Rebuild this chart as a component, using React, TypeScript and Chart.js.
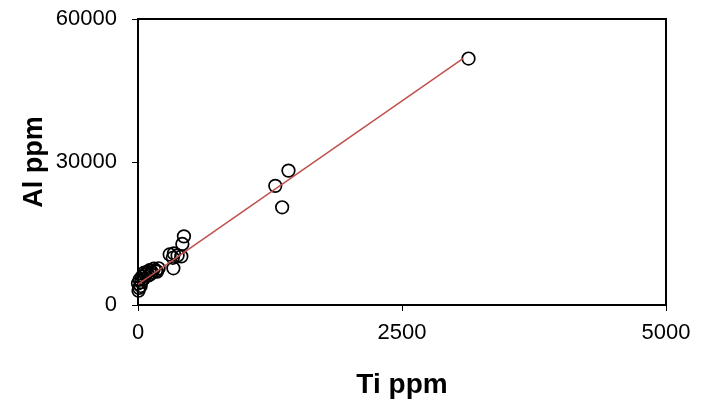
import { useEffect, useRef } from "react";
import { Chart, registerables } from "chart.js";

Chart.register(...registerables);

// Ti ppm vs Al ppm sample points
const tiPpm = [
  5, 10, 0, 15, 30, 40, 55, 70, 85, 100, 110, 130, 150, 170, 195, 25, 60, 120, 180,
  300, 340, 375, 410, 330, 335, 420, 435,
  1300, 1365, 1425, 3130,
];
const alPpm = [
  3000, 3600, 4500, 5300, 4800, 6000, 5500, 6400, 6900, 6200, 7300, 6900, 7600, 7200, 7700, 4000, 6800, 6500, 7000,
  10600, 10800, 10400, 10200, 9900, 7700, 12800, 14400,
  25000, 20500, 28200, 51700,
];

// linear trend line end points
const trendTi = [0, 3080];
const trendAl = [4340, 51750];

const xTicks = [0, 2500, 5000];
const yTicks = [0, 30000, 60000];

const FONT = "'Liberation Sans', Arial, Helvetica, sans-serif";

const framePlugin = {
  id: "frame",
  beforeDatasetsDraw(chart: any) {
    const { ctx, chartArea: a } = chart;
    ctx.save();
    ctx.strokeStyle = "#000";
    ctx.lineWidth = 2;
    ctx.strokeRect(a.left, a.top, a.right - a.left, a.bottom - a.top);
    ctx.restore();
  },
};

export default function App() {
  const ref = useRef<HTMLCanvasElement | null>(null);

  useEffect(() => {
    if (!ref.current) return;
    const chart = new Chart(ref.current, {
      type: "scatter",
      data: {
        datasets: [
          {
            type: "line",
            label: "trend",
            data: trendTi.map((x, i) => ({ x, y: trendAl[i] })),
            borderColor: "#C0504D",
            borderWidth: 1.5,
            pointRadius: 0,
            fill: false,
            order: 0,
            clip: false as any,
          } as any,
          {
            type: "scatter",
            label: "samples",
            data: tiPpm.map((x, i) => ({ x, y: alPpm[i] })),
            pointRadius: 6.3,
            pointHoverRadius: 6.3,
            borderColor: "#000",
            backgroundColor: "rgba(0,0,0,0)",
            borderWidth: 1.7,
            order: 1,
            clip: false as any,
          } as any,
        ],
      },
      options: {
        animation: false,
        responsive: false,
        layout: { padding: { top: 19, right: 47, left: 0, bottom: 0 } },
        plugins: {
          legend: { display: false },
          tooltip: { enabled: false },
        },
        scales: {
          x: {
            type: "linear",
            min: 0,
            max: 5000,
            afterFit: (s: any) => {
              s.height = 100;
              s.paddingLeft = 0;
              s.paddingRight = 0;
              s.paddingTop = 0;
              s.paddingBottom = 0;
            },
            afterBuildTicks: (s: any) => {
              s.ticks = xTicks.map((v) => ({ value: v }));
            },
            ticks: {
              color: "#000",
              font: { family: FONT, size: 22 },
              padding: 9,
              maxRotation: 0,
              callback: (v: any) => String(v),
            },
            grid: {
              display: true,
              drawOnChartArea: false,
              drawTicks: true,
              tickLength: 6,
              color: "#000",
              lineWidth: 1,
            },
            border: { display: true, color: "#000", width: 2 },
            title: {
              display: true,
              text: "Ti ppm",
              color: "#000",
              font: { family: FONT, size: 28, weight: "bold" },
              padding: { top: 0, bottom: 3 },
            },
          },
          y: {
            type: "linear",
            min: 0,
            max: 60000,
            afterFit: (s: any) => {
              s.width = 138;
              s.paddingLeft = 0;
              s.paddingRight = 0;
              s.paddingTop = 0;
              s.paddingBottom = 0;
            },
            afterBuildTicks: (s: any) => {
              s.ticks = yTicks.map((v) => ({ value: v }));
            },
            ticks: {
              color: "#000",
              font: { family: FONT, size: 22 },
              padding: 15,
              callback: (v: any) => String(v),
            },
            grid: {
              display: true,
              drawOnChartArea: false,
              drawTicks: true,
              tickLength: 6,
              color: "#000",
              lineWidth: 1,
            },
            border: { display: true, color: "#000", width: 2 },
            title: {
              display: true,
              text: "Al ppm",
              color: "#000",
              font: { family: FONT, size: 27, weight: "bold" },
              padding: { top: 18, bottom: 0 },
            },
          },
        },
      },
      plugins: [framePlugin],
    });
    return () => chart.destroy();
  }, []);

  return (
    <div style={{ position: "fixed", left: 0, top: 0, width: 713, height: 405, background: "#fff" }}>
      <canvas ref={ref} width={713} height={405} style={{ display: "block" }} />
    </div>
  );
}
